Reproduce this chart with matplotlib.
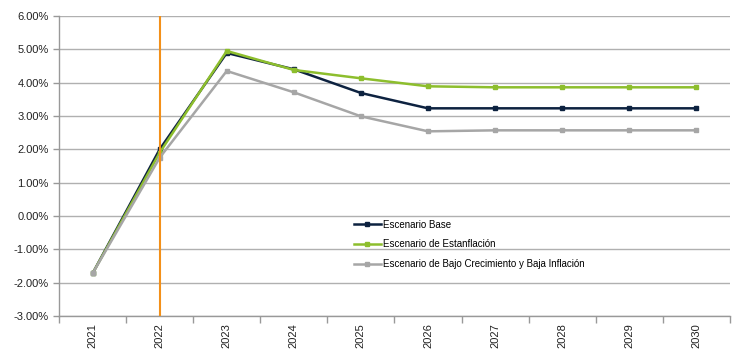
import matplotlib
matplotlib.use("Agg")
import matplotlib.pyplot as plt
from matplotlib.ticker import FuncFormatter, FixedLocator

plt.rcParams['font.family'] = ['Liberation Sans', 'DejaVu Sans']

years = ["2021", "2022", "2023", "2024", "2025", "2026", "2027", "2028", "2029", "2030"]
base = [-1.72, 2.00, 4.89, 4.40, 3.69, 3.23, 3.23, 3.23, 3.23, 3.23]
estanflacion = [-1.72, 1.90, 4.95, 4.38, 4.13, 3.89, 3.86, 3.86, 3.86, 3.86]
bajo = [-1.72, 1.75, 4.35, 3.71, 2.99, 2.54, 2.57, 2.57, 2.57, 2.57]
labels = ["Escenario Base", "Escenario de Estanflación",
          "Escenario de Bajo Crecimiento y Baja Inflación"]
yticks = [-3, -2, -1, 0, 1, 2, 3, 4, 5, 6]
vline_year = "2022"

fig = plt.figure(figsize=(7.38, 3.54), dpi=100)
ax = fig.add_axes([0.080, 0.107, 0.909, 0.848])

x = list(range(len(years)))
colors = ["#0D2240", "#8DBE2D", "#A6A6A6"]
for vals, c, lab in zip([base, estanflacion, bajo], colors, labels):
    ax.plot(x, vals, color=c, lw=1.8, marker='s', ms=3.5, label=lab, zorder=3)

ax.axvline(years.index(vline_year), color="#F39019", lw=1.5, zorder=4)

ax.set_xlim(-0.5, len(years) - 0.5)
ax.set_ylim(-3, 6)
ax.set_yticks(yticks)
ax.yaxis.set_major_formatter(FuncFormatter(lambda v, p: f"{v:.2f}%"))
ax.grid(axis='y', color="#B0B0B0", lw=1.0)
ax.set_axisbelow(True)

ax.set_xticks(x)
ax.set_xticklabels(years, rotation=90, fontsize=8, color="#222222")
ax.tick_params(axis='x', which='major', length=0, pad=5)
ax.xaxis.set_minor_locator(FixedLocator([i - 0.5 for i in range(len(years) + 1)]))
ax.tick_params(axis='x', which='minor', length=5, color="#999999", width=1)
ax.tick_params(axis='y', length=4, color="#999999", labelsize=8, labelcolor="#222222", width=1)

for s in ['top', 'right']:
    ax.spines[s].set_visible(False)
for s in ['left', 'bottom']:
    ax.spines[s].set_color("#999999")
    ax.spines[s].set_linewidth(1.0)

leg = ax.legend(loc='upper left', bbox_to_anchor=(345 / 738, 1 - 211 / 354),
                bbox_transform=fig.transFigure, frameon=False, fontsize=7,
                handlelength=2.8, handletextpad=0.2, labelspacing=1.0,
                markerscale=0.9)

fig.savefig("out.png", dpi=100)
